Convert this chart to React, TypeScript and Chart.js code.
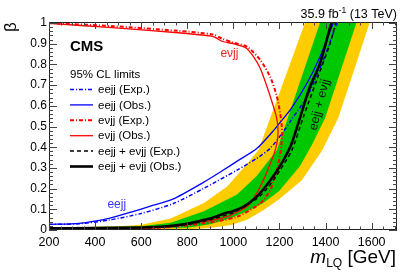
import { useEffect, useRef } from 'react';
import { Chart, registerables } from 'chart.js';

Chart.register(...registerables);

const FONT = '"Liberation Sans", Arial, Helvetica, sans-serif';

// axis ticks
const xMajorStep = 200;
const xMinorStep = 50;
const yMajorStep = 0.1;
const yMinorStep = 0.02;

// eejj
const eejjExpMass = [200, 330, 460, 600, 740, 870, 1020, 1100, 1160, 1220, 1250, 1320, 1390, 1452];
const eejjExpBeta = [0.027, 0.030, 0.048, 0.080, 0.128, 0.200, 0.292, 0.345, 0.395, 0.480, 0.530, 0.645, 0.820, 1.01];
const eejjObsMass = [200, 330, 460, 560, 640, 740, 870, 950, 1020, 1100, 1170, 1203, 1250, 1320, 1375, 1437];
const eejjObsBeta = [0.027, 0.032, 0.056, 0.088, 0.115, 0.150, 0.230, 0.285, 0.335, 0.392, 0.475, 0.520, 0.585, 0.710, 0.835, 1.01];

// e nu jj (ordered along beta)
const enujjExpMass = [200, 600, 730, 870, 1016, 1117, 1160, 1189, 1205, 1211, 1210, 1203, 1189, 1160, 1117, 1060, 1000, 950, 910, 760, 475, 200];
const enujjExpBeta = [0.004, 0.008, 0.015, 0.032, 0.064, 0.129, 0.193, 0.290, 0.380, 0.450, 0.500, 0.564, 0.644, 0.740, 0.821, 0.885, 0.905, 0.925, 0.945, 0.962, 0.985, 1.0];
const enujjObsMass = [200, 500, 650, 730, 870, 945, 990, 1060, 1100, 1130, 1160, 1180, 1192, 1193, 1187, 1174, 1146, 1117, 1088, 1052, 1000, 950, 925, 905, 760, 475, 200];
const enujjObsBeta = [0.004, 0.006, 0.010, 0.016, 0.040, 0.056, 0.072, 0.113, 0.175, 0.240, 0.320, 0.380, 0.440, 0.500, 0.545, 0.596, 0.692, 0.780, 0.837, 0.882, 0.900, 0.912, 0.928, 0.937, 0.953, 0.978, 0.998];

// combination
const combExpMass = [200, 400, 600, 700, 800, 900, 1000, 1100, 1150, 1200, 1254, 1304, 1362, 1420, 1446];
const combExpBeta = [0.007, 0.008, 0.011, 0.015, 0.027, 0.050, 0.085, 0.150, 0.205, 0.285, 0.386, 0.547, 0.725, 0.902, 1.01];
const combObsMass = [200, 400, 600, 700, 800, 870, 920, 945, 960, 1000, 1050, 1100, 1150, 1200, 1250, 1280, 1330, 1376, 1420, 1429];
const combObsBeta = [0.008, 0.009, 0.012, 0.017, 0.030, 0.048, 0.063, 0.074, 0.080, 0.092, 0.117, 0.160, 0.225, 0.305, 0.410, 0.510, 0.685, 0.805, 0.980, 1.01];

// expected bands (closed outlines: lower-beta edge then upper-beta edge)
const band2LowMass = [200, 800, 900, 990, 1060, 1130, 1200, 1297, 1383, 1455, 1520, 1592];
const band2LowBeta = [0.003, 0.004, 0.010, 0.024, 0.050, 0.095, 0.150, 0.240, 0.380, 0.541, 0.760, 1.005];
const band2HighMass = [1312, 1250, 1200, 1146, 1109, 1060, 1016, 973, 872, 728, 600, 500, 200];
const band2HighBeta = [1.005, 0.815, 0.663, 0.499, 0.386, 0.320, 0.265, 0.210, 0.130, 0.055, 0.025, 0.018, 0.012];
const band1LowMass = [200, 800, 900, 990, 1060, 1130, 1200, 1290, 1340, 1398, 1460, 1535];
const band1LowBeta = [0.005, 0.011, 0.028, 0.058, 0.090, 0.130, 0.190, 0.310, 0.410, 0.541, 0.750, 1.005];
const band1HighMass = [1377, 1300, 1250, 1189, 1100, 1016, 872, 728, 600, 200];
const band1HighBeta = [1.005, 0.752, 0.587, 0.386, 0.260, 0.172, 0.090, 0.035, 0.018, 0.011];

const legendLabels = ['eejj (Exp.)', 'eejj (Obs.)', 'eνjj (Exp.)', 'eνjj (Obs.)', 'eejj + eνjj (Exp.)', 'eejj + eνjj (Obs.)'];

const BLUE = '#0000ff';
const RED = '#ff0000';
const GREEN = '#00c800';
const YELLOW = '#ffcc00';

const styles = [
  { color: BLUE, width: 1.5, dash: [4, 2, 1, 2] },
  { color: BLUE, width: 1.3, dash: [] as number[] },
  { color: RED, width: 2, dash: [4, 2, 1, 2] },
  { color: RED, width: 1.3, dash: [] as number[] },
  { color: '#000000', width: 1.5, dash: [4, 3] },
  { color: '#000000', width: 2.6, dash: [] as number[] },
];

const pts = (xs: number[], ys: number[]) => xs.map((x, i) => ({ x, y: ys[i] }));

const overlay = {
  id: 'overlay',
  afterDraw(chart: any) {
    const { ctx, chartArea: a, scales } = chart;
    const xs = scales.x;
    const ys = scales.y;
    const X = (v: number) => xs.getPixelForValue(v);
    const Y = (v: number) => ys.getPixelForValue(v);
    ctx.save();
    // frame
    ctx.strokeStyle = '#222';
    ctx.lineWidth = 1;
    ctx.setLineDash([]);
    ctx.strokeRect(Math.round(a.left) + 0.5, Math.round(a.top) + 0.5, Math.round(a.right - a.left) - 1, Math.round(a.bottom - a.top) - 1);
    // ticks
    ctx.strokeStyle = '#444';
    ctx.beginPath();
    const nx = Math.floor((xs.max - xs.min) / xMinorStep + 1e-6);
    for (let i = 0; i <= nx; i++) {
      const v = xs.min + i * xMinorStep;
      const px = Math.round(X(v)) + 0.5;
      const major = Math.abs(v / xMajorStep - Math.round(v / xMajorStep)) < 1e-6;
      const len = major ? 7 : 3.5;
      ctx.moveTo(px, a.bottom); ctx.lineTo(px, a.bottom - len);
      ctx.moveTo(px, a.top); ctx.lineTo(px, a.top + len);
    }
    const ny = Math.floor((ys.max - ys.min) / yMinorStep + 1e-6);
    for (let i = 0; i <= ny; i++) {
      const v = ys.min + i * yMinorStep;
      const py = Math.round(Y(v)) + 0.5;
      const major = Math.abs(v / yMajorStep - Math.round(v / yMajorStep)) < 1e-6;
      const len = major ? 8 : 4;
      ctx.moveTo(a.left, py); ctx.lineTo(a.left + len, py);
      ctx.moveTo(a.right, py); ctx.lineTo(a.right - len, py);
    }
    ctx.stroke();

    ctx.fillStyle = '#000';
    // x title
    ctx.textBaseline = 'alphabetic';
    ctx.textAlign = 'left';
    const fMain = `19px ${FONT}`;
    const fIt = `italic 19px ${FONT}`;
    const fSub = `12px ${FONT}`;
    ctx.font = fMain; const wG = ctx.measureText(' [GeV]').width;
    ctx.font = fSub; const wL = ctx.measureText('LQ').width;
    ctx.font = fIt; const wM = ctx.measureText('m').width;
    let sx = 396 - wG - wL - wM;
    ctx.font = fIt; ctx.fillText('m', sx, 263); sx += wM;
    ctx.font = fSub; ctx.fillText('LQ', sx, 267); sx += wL;
    ctx.font = fMain; ctx.fillText(' [GeV]', sx, 263);

    // y title
    ctx.save();
    ctx.translate(16, 27);
    ctx.rotate(-Math.PI / 2);
    ctx.font = `17px ${FONT}`;
    ctx.textAlign = 'center';
    ctx.fillText('β', 0, 0);
    ctx.restore();

    // lumi label
    const fL = `12.5px ${FONT}`;
    const fS = `8.5px ${FONT}`;
    ctx.font = fL; const w1 = ctx.measureText('35.9 fb').width; const w3 = ctx.measureText(' (13 TeV)').width;
    ctx.font = fS; const w2 = ctx.measureText('-1').width;
    let lx = 397 - w1 - w2 - w3;
    ctx.font = fL; ctx.fillText('35.9 fb', lx, 18); lx += w1;
    ctx.font = fS; ctx.fillText('-1', lx, 12.5); lx += w2;
    ctx.font = fL; ctx.fillText(' (13 TeV)', lx, 18);

    // CMS
    ctx.font = `bold 15px ${FONT}`;
    ctx.fillText('CMS', 70, 51);
    ctx.font = `11.5px ${FONT}`;
    ctx.fillText('95% CL limits', 70, 77.5);

    // legend
    ctx.textBaseline = 'middle';
    legendLabels.forEach((lab, i) => {
      const yy = 89.5 + i * 15.4;
      const st = styles[i];
      ctx.strokeStyle = st.color;
      ctx.lineWidth = st.width;
      ctx.setLineDash(st.dash);
      ctx.beginPath();
      ctx.moveTo(70, yy); ctx.lineTo(93, yy);
      ctx.stroke();
      ctx.setLineDash([]);
      ctx.fillStyle = '#000';
      ctx.font = `11.5px ${FONT}`;
      ctx.fillText(lab, 98, yy + 0.5);
    });

    // curve labels
    ctx.textAlign = 'center';
    ctx.font = `12px ${FONT}`;
    ctx.fillStyle = '#3535ff';
    ctx.fillText('eejj', X(494), Y(0.121));
    ctx.fillStyle = '#f02020';
    ctx.fillText('eνjj', X(983), Y(0.85));
    ctx.save();
    ctx.translate(X(1374), Y(0.605));
    ctx.rotate(-75.6 * Math.PI / 180);
    ctx.fillStyle = '#111';
    ctx.font = `12.5px ${FONT}`;
    ctx.fillText('eejj + eνjj', 0, 0);
    ctx.restore();
    ctx.restore();
  },
};

export default function App() {
  const ref = useRef<HTMLCanvasElement | null>(null);
  useEffect(() => {
    if (!ref.current) return;
    const line = (data: any[], st: any, order: number) => ({
      data,
      showLine: true,
      pointRadius: 0,
      borderColor: st.color,
      borderWidth: st.width,
      borderDash: st.dash,
      fill: false,
      tension: 0.25,
      order,
    });
    const band = (data: any[], color: string, order: number) => ({
      data,
      showLine: true,
      pointRadius: 0,
      borderColor: 'rgba(0,0,0,0)',
      borderWidth: 0,
      backgroundColor: color,
      fill: 'shape',
      tension: 0,
      order,
    });
    const chart = new Chart(ref.current, {
      type: 'scatter',
      data: {
        datasets: [
          line(pts(combObsMass, combObsBeta), styles[5], 0),
          line(pts(combExpMass, combExpBeta), styles[4], 1),
          line(pts(enujjObsMass, enujjObsBeta), styles[3], 2),
          line(pts(enujjExpMass, enujjExpBeta), styles[2], 3),
          line(pts(eejjObsMass, eejjObsBeta), styles[1], 4),
          line(pts(eejjExpMass, eejjExpBeta), styles[0], 5),
          band(pts([...band1LowMass, ...band1HighMass], [...band1LowBeta, ...band1HighBeta]), GREEN, 9),
          band(pts([...band2LowMass, ...band2HighMass], [...band2LowBeta, ...band2HighBeta]), YELLOW, 10),
        ] as any,
      },
      options: {
        animation: false,
        responsive: false,
        devicePixelRatio: 1,
        layout: { padding: { top: 22, right: 10, left: 0, bottom: 0 } },
        plugins: { legend: { display: false }, tooltip: { enabled: false }, title: { display: false } },
        scales: {
          x: {
            type: 'linear',
            min: 200,
            max: 1710,
            grid: { display: false, drawTicks: false },
            border: { display: false },
            ticks: {
              stepSize: xMajorStep,
              includeBounds: false,
              autoSkip: false,
              maxRotation: 0,
              padding: 5,
              color: '#000',
              font: { family: FONT, size: 12.5 },
              callback: (v: any) => String(v),
            },
            afterFit: (s: any) => { s.height = 45; },
          },
          y: {
            type: 'linear',
            min: 0,
            max: 1.005,
            grid: { display: false, drawTicks: false },
            border: { display: false },
            ticks: {
              stepSize: yMajorStep,
              includeBounds: false,
              autoSkip: false,
              padding: 2,
              color: '#000',
              font: { family: FONT, size: 12 },
              callback: (v: any) => (v === 0 ? '0' : Math.abs(v - 1) < 1e-9 ? '1' : Number(v).toFixed(1)),
            },
            afterFit: (s: any) => { s.width = 49; },
          },
        },
      } as any,
      plugins: [overlay],
    });
    return () => chart.destroy();
  }, []);
  return (
    <canvas
      ref={ref}
      width={407}
      height={275}
      style={{ position: 'absolute', left: 0, top: 0, width: 407, height: 275, display: 'block' }}
    />
  );
}
